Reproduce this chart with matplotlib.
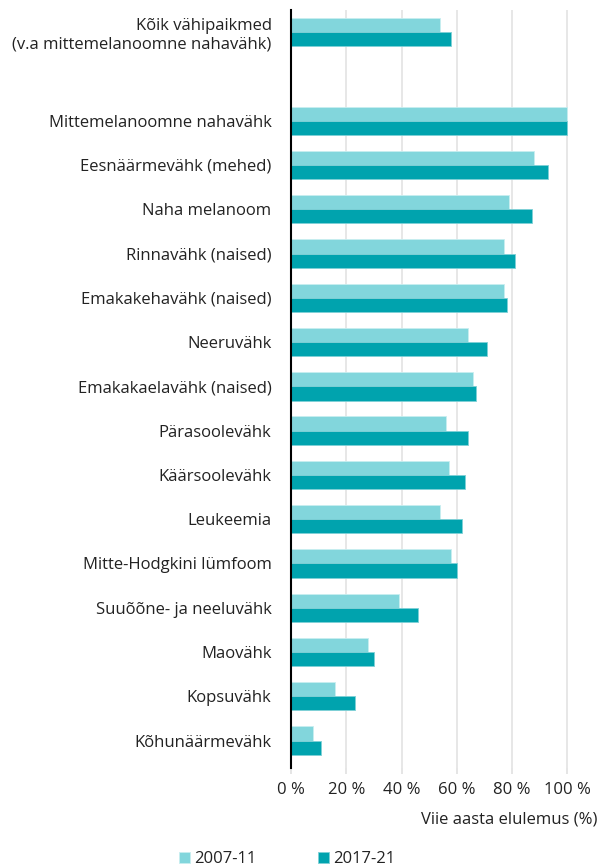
import numpy as np
import matplotlib.pyplot as plt

plt.rcParams['font.family'] = ['Open Sans', 'DejaVu Sans']

# andmed
kategooriad = ["Kõik vähipaikmed\n(v.a mittemelanoomne nahavähk)", "",
               "Mittemelanoomne nahavähk", "Eesnäärmevähk (mehed)", "Naha melanoom",
               "Rinnavähk (naised)", "Emakakehavähk (naised)", "Neeruvähk",
               "Emakakaelavähk (naised)", "Pärasoolevähk", "Käärsoolevähk",
               "Leukeemia", "Mitte-Hodgkini lümfoom", "Suuõõne- ja neeluvähk",
               "Maovähk", "Kopsuvähk", "Kõhunäärmevähk"]
v2007 = [54, np.nan, 100, 88, 79, 77, 77, 64, 66, 56, 57, 54, 58, 39, 28, 16, 8]
v2017 = [58, np.nan, 100, 93, 87, 81, 78, 71, 67, 64, 63, 62, 60, 46, 30, 23, 11]
x_ticks = [0, 20, 40, 60, 80, 100]
x_tick_labels = ["0 %", "20 %", "40 %", "60 %", "80 %", "100 %"]

hele = "#82d6dc"
tume = "#00a3ae"
fs = 12

fig = plt.figure(figsize=(6, 8.68), dpi=100)
ax = fig.add_axes([291 / 600, 1 - 768 / 868, (573 - 291) / 600, (768 - 10) / 868])

y = np.arange(len(kategooriad))
h = 0.32
ax.barh(y - h / 2, v2007, height=h, color=hele, edgecolor="#c8eef0", linewidth=0.6,
        label="2007-11", zorder=3)
ax.barh(y + h / 2, v2017, height=h, color=tume, edgecolor="#7fd0d6", linewidth=0.6,
        label="2017-21", zorder=3)

ax.set_xlim(0, 102)
ax.set_ylim(16.62, -0.5)
ax.set_yticks(y)
ax.set_yticklabels(kategooriad, fontsize=fs, color="#222222", linespacing=1.2)
ax.tick_params(axis="y", length=0, pad=14)
ax.set_xticks(x_ticks)
ax.set_xticklabels(x_tick_labels, fontsize=fs, color="#222222")
ax.tick_params(axis="x", length=4, color="#e0e0e0", width=1.2, pad=6)

ax.grid(axis="x", color="#e3e3e3", linewidth=1.2, zorder=0)
for s in ["top", "right", "bottom"]:
    ax.spines[s].set_visible(False)
ax.spines["left"].set_color("black")
ax.spines["left"].set_linewidth(1.5)
ax.spines["left"].set_zorder(4)

fig.text(597 / 600, 1 - 820 / 868, "Viie aasta elulemus (%)", ha="right", va="center",
         fontsize=fs, color="#222222")

fig.legend(loc="center", bbox_to_anchor=(287 / 600, 1 - 859 / 868), ncol=2,
           frameon=False, fontsize=fs, handlelength=0.65, handleheight=0.65,
           handletextpad=0.25, columnspacing=3.7, labelcolor="#222222")

fig.savefig("out.png", dpi=100)
